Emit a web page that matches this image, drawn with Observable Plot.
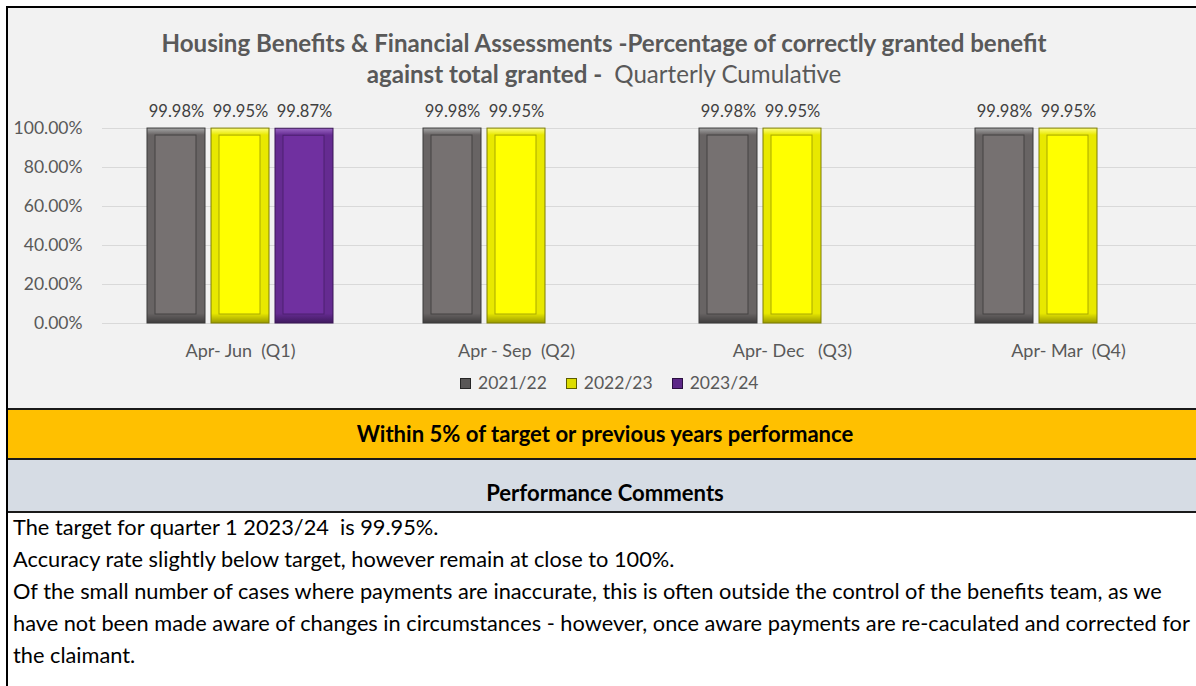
<!DOCTYPE html>
<html>
<head>
<meta charset="utf-8">
<script src="https://cdn.jsdelivr.net/npm/d3@7"></script>
<script src="https://cdn.jsdelivr.net/npm/@observablehq/plot@0.6"></script>
<style>
  html, body { margin: 0; padding: 0; background: #fff; }
  #page { position: relative; width: 1196px; height: 686px; overflow: hidden; font-family: Lato, "Open Sans", sans-serif; background: #fff; }
  .abs { position: absolute; }
  #chartbg { left: 6px; top: 6px; width: 1190px; height: 402px; background: #f2f2f2; }
  #leftline { left: 6px; top: 6px; width: 2px; height: 680px; background: #000; }
  #topline { left: 6px; top: 6px; width: 1190px; height: 2px; background: #000; }
  .hline { left: 6px; width: 1190px; height: 2px; background: #1a1a1a; }
  .titlerow { left: 0; width: 1208px; text-align: center; color: #595959; line-height: 30px; height: 30px; white-space: pre; }
  .titlerow span { display: inline-block; }
  #chart { left: 0; top: 88px; width: 1207px; }
  #chart svg text { white-space: pre; }
  #legend { left: 460px; top: 374px; display: flex; align-items: center; color: #595959; font-size: 17.5px; line-height: 18px; }
  .li { display: flex; align-items: center; margin-right: 19px; }
  .sw { width: 9px; height: 9px; border: 1px solid #000; margin-right: 7px; }
  #orange { left: 8px; top: 410px; width: 1188px; height: 48px; background: #ffc000; }
  #grayband { left: 8px; top: 460px; width: 1188px; height: 51px; background: #d6dce4; }
  .bandtext { left: 0; width: 1210px; text-align: center; font-weight: bold; color: #000; height: 30px; line-height: 30px; white-space: pre; }
  .bandtext span { display: inline-block; }
  #comments { left: 13px; top: 511px; color: #000; white-space: pre; }
  #comments .cl { position: relative; height: 32px; }
  #comments .cl span { position: absolute; left: 0; top: 0; line-height: 32px; height: 32px; display: inline-block; }
</style>
</head>
<body>
<div id="page">
  <div id="chartbg" class="abs"></div>
  <div id="orange" class="abs"></div>
  <div id="grayband" class="abs"></div>
  <div class="abs hline" style="top:408px"></div>
  <div class="abs hline" style="top:458px"></div>
  <div class="abs hline" style="top:511px"></div>
  <div id="topline" class="abs"></div>
  <div id="leftline" class="abs"></div>

  <div class="abs titlerow" style="top:28px"><span id="t1" style="font-weight:bold;font-size:20px">Housing Benefits &amp; Financial Assessments -Percentage of correctly granted benefit</span></div>
  <div class="abs titlerow" style="top:59px"><span id="t2"><b>against total granted - </b> <span style="font-weight:normal">Quarterly Cumulative</span></span></div>

  <div id="chart" class="abs"></div>
  <div id="legend" class="abs"></div>

  <div class="abs bandtext" style="top:419px"><span id="b1" style="font-size:18px">Within 5% of target or previous years performance</span></div>
  <div class="abs bandtext" style="top:478px"><span id="b2" style="font-size:18px">Performance Comments</span></div>

  <div id="comments" class="abs"></div>
</div>

<script>
// ---------------- DATA ----------------
const quarters = ["Apr- Jun  (Q1)", "Apr - Sep  (Q2)", "Apr- Dec   (Q3)", "Apr- Mar  (Q4)"];
const years = ["2021/22", "2022/23", "2023/24"];
const values2021_22 = [99.98, 99.98, 99.98, 99.98];
const values2022_23 = [99.95, 99.95, 99.95, 99.95];
const values2023_24 = [99.87, null, null, null];
const yTicks = [0, 20, 40, 60, 80, 100];
const commentLines = [
  "The target for quarter 1 2023/24  is 99.95%.",
  "Accuracy rate slightly below target, however remain at close to 100%.",
  "Of the small number of cases where payments are inaccurate, this is often outside the control of the benefits team, as we",
  "have not been made aware of changes in circumstances - however, once aware payments are re-caculated and corrected for",
  "the claimant."
];

// ---------------- STYLES ----------------
const seriesStyle = {
  "2021/22": {grad: "gGray", edge: "#3a3a3a", inner: "#767171", innerEdge: "#454343", top: "#a6a6a6", mid: "#686464", bot: "#3f3d3d", legend: "#595757", legendEdge: "#262626"},
  "2022/23": {grad: "gYel", edge: "#7d7d00", inner: "#ffff00", innerEdge: "#a8a800", top: "#ffff80", mid: "#e8e800", bot: "#9a9a00", legend: "#dcdc00", legendEdge: "#5c5c00"},
  "2023/24": {grad: "gPur", edge: "#3a1656", inner: "#7030a0", innerEdge: "#4c2070", top: "#9a66c4", mid: "#652b91", bot: "#3f1a5e", legend: "#5c2787", legendEdge: "#2a0f40"}
};

const seriesValues = [values2021_22, values2022_23, values2023_24];
const data = [];
years.forEach((yr, i) => {
  quarters.forEach((q, j) => {
    const v = seriesValues[i][j];
    if (v != null) data.push({quarter: q, year: yr, value: v});
  });
});

// ---------------- CHART ----------------
const barMarks = [];
for (const yr of years) {
  const s = seriesStyle[yr];
  const f = d => d.year === yr;
  barMarks.push(Plot.barY(data, {filter: f, fx: "quarter", x: "year", y: "value", fill: `url(#${s.grad})`, stroke: s.edge, strokeWidth: 1}));
  barMarks.push(Plot.barY(data, {filter: f, fx: "quarter", x: "year", y: "value", fill: s.inner, stroke: s.innerEdge, strokeWidth: 1, insetLeft: 8, insetRight: 9, insetTop: 7, insetBottom: 9}));
}

const chart = Plot.plot({
  width: 1207,
  height: 282,
  marginLeft: 100,
  marginRight: 0,
  marginTop: 40,
  marginBottom: 47,
  style: {background: "transparent", fontFamily: "Lato, 'Open Sans', sans-serif", overflow: "visible"},
  fx: {domain: quarters, padding: 0, label: null, axis: null},
  x: {domain: years, paddingInner: 0.1, paddingOuter: 0.68, axis: null},
  y: {domain: [0, 100], label: null},
  marks: [
    Plot.gridY(yTicks, {stroke: "#d9d9d9", strokeOpacity: 1, strokeWidth: 1}),
    Plot.axisY(yTicks, {tickFormat: d => d.toFixed(2) + "%", tickSize: 0, tickPadding: 20, fontSize: 17.5, color: "#595959", label: null}),
    Plot.axisFx({anchor: "bottom", tickSize: 0, tickPadding: 21, fontSize: 18, color: "#595959", label: null}),
    ...barMarks,
    Plot.text(data, {fx: "quarter", x: "year", y: "value", text: d => d.value.toFixed(2) + "%", dy: -17, fontSize: 16.5, fill: "#404040"})
  ]
});

// gradient defs for the bevelled bars
const defs = years.map(yr => {
  const s = seriesStyle[yr];
  return `<linearGradient id="${s.grad}" x1="0" y1="0" x2="0" y2="1">
    <stop offset="0" stop-color="${s.top}"/>
    <stop offset="0.035" stop-color="${s.mid}"/>
    <stop offset="0.95" stop-color="${s.mid}"/>
    <stop offset="1" stop-color="${s.bot}"/>
  </linearGradient>`;
}).join("");
chart.insertAdjacentHTML("afterbegin", `<defs>${defs}</defs>`);
document.getElementById("chart").appendChild(chart);

// ---------------- LEGEND ----------------
const legend = document.getElementById("legend");
for (const yr of years) {
  const s = seriesStyle[yr];
  const item = document.createElement("div");
  item.className = "li";
  item.innerHTML = `<div class="sw" style="background:${s.legend};border-color:${s.legendEdge}"></div><span>${yr}</span>`;
  legend.appendChild(item);
}

// ---------------- COMMENTS ----------------
const comments = document.getElementById("comments");
for (const line of commentLines) {
  const div = document.createElement("div");
  div.className = "cl";
  const sp = document.createElement("span");
  sp.textContent = line;
  sp.style.fontSize = "18px";
  div.appendChild(sp);
  comments.appendChild(div);
}

// ---------------- fit text widths to the layout ----------------
function fitTo(el, target) {
  const w = el.getBoundingClientRect().width;
  const fs = parseFloat(getComputedStyle(el).fontSize);
  const nfs = fs * target / w;
  el.style.fontSize = nfs + "px";
  return nfs;
}
const tfs = fitTo(document.getElementById("t1"), 886);
document.getElementById("t2").style.fontSize = tfs + "px";
fitTo(document.getElementById("b1"), 497);
document.getElementById("b2").style.fontSize = document.getElementById("b1").style.fontSize;
const spans = comments.querySelectorAll("span");
const cfs = fitTo(spans[3], 1178);
spans.forEach(s => s.style.fontSize = cfs + "px");
</script>
</body>
</html>
